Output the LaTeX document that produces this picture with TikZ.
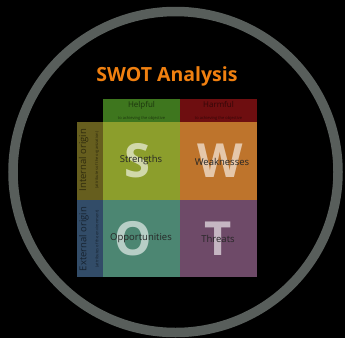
\documentclass[tikz,border=0pt]{standalone}
\usepackage{fontspec}
\setmainfont{Open Sans}
\begin{document}
\begin{tikzpicture}[x=1pt,y=-1pt,
  big/.style={text=white,opacity=0.6,font=\fontsize{47}{47}\selectfont\bfseries},
  word/.style={text=black!85,font=\fontsize{9.5}{10}\selectfont},
  head/.style={text=black,opacity=0.55,align=center,inner sep=0pt},
]
% background
\fill[black] (0,0) rectangle (345,338);
\useasboundingbox (0,0) rectangle (345,338);
% outer ring
\draw[line width=9.5pt,color={rgb,255:red,88;green,94;blue,91}] (175.5,172) ellipse [x radius=162.5, y radius=160.5];

% title
\node[text={rgb,255:red,240;green,128;blue,16},font=\fontsize{19.5}{19.5}\selectfont\bfseries] (title) at (167,76) {SWOT Analysis};

% header cells
\fill[color={rgb,255:red,62;green,118;blue,30}] (103,99) rectangle (180,122);
\fill[color={rgb,255:red,110;green,14;blue,16}] (180,99) rectangle (257,122);
% side cells
\fill[color={rgb,255:red,102;green,94;blue,30}] (77,122) rectangle (103,200);
\fill[color={rgb,255:red,50;green,76;blue,104}] (77,200) rectangle (103,277);
% quadrants
\fill[color={rgb,255:red,140;green,158;blue,44}] (103,122) rectangle (180,200);
\fill[color={rgb,255:red,190;green,116;blue,44}] (180,122) rectangle (257,200);
\fill[color={rgb,255:red,76;green,134;blue,114}] (103,200) rectangle (180,277);
\fill[color={rgb,255:red,110;green,74;blue,104}] (180,200) rectangle (257,277);

% header texts
\node[head] (helpful) at (141.5,110.5) {{\fontsize{8}{8}\selectfont Helpful}\\[0pt]{\fontsize{4}{4}\selectfont to achieving the objective}};
\node[head] (harmful) at (218.5,110.5) {{\fontsize{8}{8}\selectfont Harmful}\\[0pt]{\fontsize{4}{4}\selectfont to achieving the objective}};
\node[head,rotate=90] (internal) at (89,160) {{\fontsize{9.5}{9.5}\selectfont Internal origin}\\[0pt]{\fontsize{4}{4}\selectfont (attributes of the organization)}};
\node[head,rotate=90] (external) at (89,239) {{\fontsize{9.5}{9.5}\selectfont External origin}\\[0pt]{\fontsize{4}{4}\selectfont (attributes of the environment)}};

% big letters
\node[big] (S) at (137,161) {S};
\node[big] (W) at (220,161) {W};
\node[big] (O) at (133,239) {O};
\node[big] (T) at (218,239) {T};

% quadrant words
\node[word] (strengths) at (141,160) {Strengths};
\node[word] (weaknesses) at (222,162) {Weaknesses};
\node[word] (opportunities) at (141,238) {Opportunities};
\node[word] (threats) at (218,239) {Threats};
\end{tikzpicture}
\end{document}
